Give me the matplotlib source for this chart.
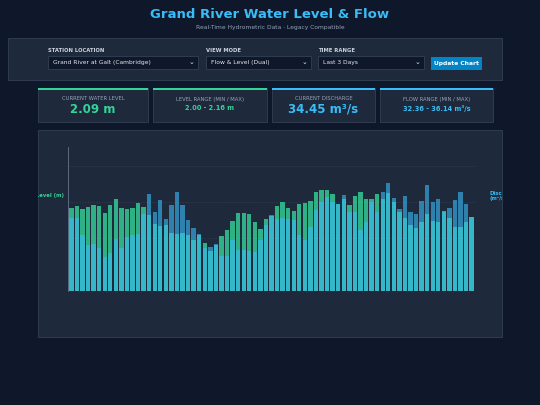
import matplotlib
matplotlib.use("Agg")
import matplotlib.pyplot as plt
from matplotlib.patches import Rectangle
import numpy as np

level = [2.112,2.118,2.111,2.116,2.122,2.119,2.100,2.120,2.138,2.114,2.110,2.114,2.127,2.116,
         2.094,2.070,2.065,2.068,2.047,2.044,2.048,2.041,2.028,2.041,2.021,2.000,2.015,2.040,
         2.054,2.078,2.101,2.100,2.098,2.076,2.058,2.083,2.093,2.119,2.128,2.113,2.105,2.123,
         2.127,2.132,2.155,2.160,2.160,2.149,2.123,2.136,2.120,2.144,2.155,2.138,2.137,2.149,
         2.136,2.153,2.129,2.103,2.088,2.068,2.061,2.076,2.097,2.079,2.076,2.105,2.087,2.063,
         2.063,2.076,2.089]
discharge = [34.09,34.09,33.05,32.46,32.56,32.32,31.77,32.00,32.85,32.32,32.95,33.05,33.15,34.33,
             35.51,34.43,35.12,33.99,34.82,35.61,34.82,33.93,33.50,33.15,32.32,32.36,32.56,31.81,
             31.81,32.75,32.16,32.16,32.12,32.06,32.75,33.64,34.27,34.03,34.09,34.03,33.97,33.05,
             32.75,33.54,34.52,35.02,35.31,35.02,34.88,35.41,34.43,34.43,33.38,33.84,35.02,34.43,
             35.61,36.14,35.23,34.60,35.35,34.41,34.33,35.08,36.00,35.02,35.21,34.43,34.68,35.12,
             35.59,34.88,34.11]

title = "Grand River Water Level & Flow"
subtitle = "Real-Time Hydrometric Data · Legacy Compatible"
controls = [("STATION LOCATION", "Grand River at Galt (Cambridge)"),
            ("VIEW MODE", "Flow & Level (Dual)"),
            ("TIME RANGE", "Last 3 Days")]
cards = [("CURRENT WATER LEVEL", "2.09 m"), ("LEVEL RANGE (MIN / MAX)", "2.00 - 2.16 m"),
         ("CURRENT DISCHARGE", "34.45 m³/s"), ("FLOW RANGE (MIN / MAX)", "32.36 - 36.14 m³/s")]

BG = "#0f172a"; PANEL = "#1e293b"; GREEN = "#34d399"; BLUE = "#38bdf8"
W, H = 540, 405
fig = plt.figure(figsize=(5.4, 4.05), dpi=100, facecolor=BG)
bg = fig.add_axes([0, 0, 1, 1]); bg.set_xlim(0, W); bg.set_ylim(H, 0); bg.axis("off")

def rect(x0, y0, x1, y1, fc, ec="none", lw=0.6, z=1):
    bg.add_patch(Rectangle((x0, y0), x1 - x0, y1 - y0, fc=fc, ec=ec, lw=lw, zorder=z))

bg.text(270, 15, title, color=BLUE, fontsize=9.5, weight="bold", ha="center", va="center")
bg.text(270, 27, subtitle, color="#94a3b8", fontsize=4.3, ha="center", va="center")

rect(8, 38, 502, 80, PANEL, "#334155")
cx = [(48, 198), (206, 311), (318, 424)]
for (lab, val), (x0, x1) in zip(controls, cx):
    bg.text(x0, 51, lab, color="#cbd5e1", fontsize=3.8, weight="bold", va="center")
    rect(x0, 56, x1, 69, BG, "#334155", z=2)
    bg.text(x0 + 5, 62.5, val, color="#e2e8f0", fontsize=4.3, va="center", zorder=3)
    bg.text(x1 - 4, 62.5, "⌄", color="#e2e8f0", fontsize=5, ha="right", va="center", zorder=3)
rect(431, 57, 482, 70, "#0284c7", z=2)
bg.text(456.5, 63.5, "Update Chart", color="white", fontsize=4.3, weight="bold", ha="center", va="center", zorder=3)

cx = [(38, 148), (153, 267), (272, 375), (380, 493)]
for i, ((lab, val), (x0, x1)) in enumerate(zip(cards, cx)):
    col = GREEN if i < 2 else BLUE
    rect(x0, 88, x1, 122, PANEL, "#334155")
    rect(x0, 88, x1, 89.5, col, z=2)
    bg.text((x0 + x1) / 2, 99, lab, color="#94a3b8", fontsize=3.8, ha="center", va="center")
    big = i % 2 == 0
    bg.text((x0 + x1) / 2, 109.5 if big else 108.5, val, color=col, fontsize=8.5 if big else 4.8,
            weight="bold", ha="center", va="center")

rect(38, 130, 502, 337, PANEL, "#334155")
t1 = bg.text(30, 196, "Water Level (m)", color=GREEN, fontsize=3.8, weight="bold", ha="left", va="center")
t2 = bg.text(489, 196, "Discharge\n(m³/s)", color=BLUE, fontsize=3.8, weight="bold", ha="left", va="center", linespacing=0.9)
clip = Rectangle((38, 130), 464, 207, transform=bg.transData)
for t in (t1, t2):
    t.set_clip_path(clip); t.set_clip_on(True)
t1.set_position((16, 196))

ax = fig.add_axes([68 / W, 1 - 291 / H, (475 - 68) / W, (291 - 147) / H])
ax.patch.set_alpha(0)
x = np.arange(len(level))
ax.bar(x, level, width=0.78, color=GREEN, alpha=0.8, zorder=2)
ax.set_ylim(1.8945, 2.274)
ax.set_xlim(-0.6, len(level) - 0.4)
ax.set_yticks([2.033, 2.128, 2.223])
ax.grid(axis="y", color="#334155", lw=0.5, ls=(0, (2, 2)))
ax.tick_params(length=0, labelleft=False, labelbottom=False)
for s in ["top", "right", "bottom"]:
    ax.spines[s].set_visible(False)
ax.spines["left"].set_color("#64748b"); ax.spines["left"].set_linewidth(0.6)
ax2 = ax.twinx()
ax2.bar(x, discharge, width=0.78, color=BLUE, alpha=0.6, zorder=3)
ax2.set_ylim(29.76, 38.26)
ax2.axis("off")
fig.savefig("out.png", dpi=100, facecolor=BG)
